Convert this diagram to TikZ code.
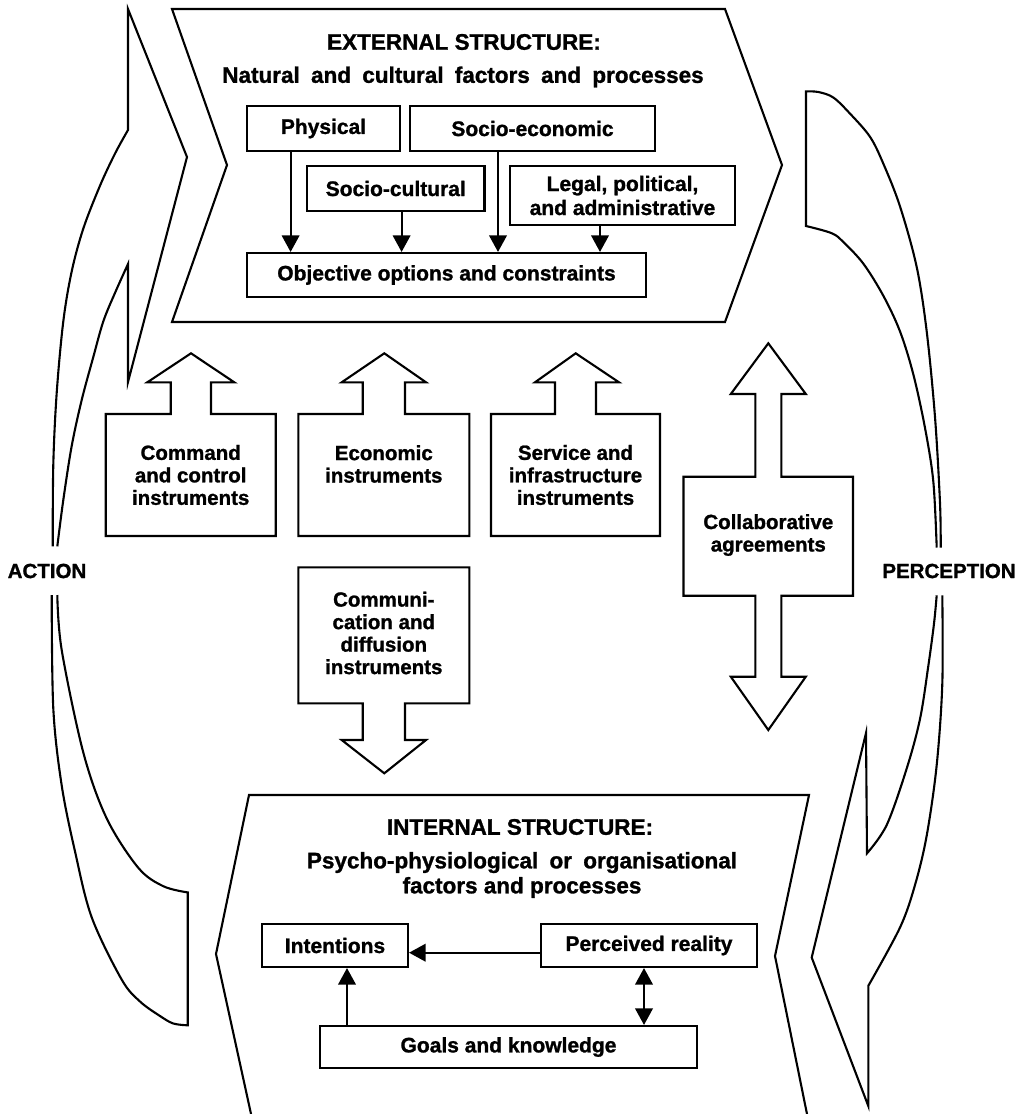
\documentclass[tikz,border=0pt]{standalone}
\usepackage{fontspec}
\setmainfont{Liberation Sans}[BoldFeatures={FakeBold=1.2}]
\usetikzlibrary{arrows.meta}
% wider inter-word gaps for the structure subtitles
\newcommand\widewords{\spaceskip=0.5em plus 0.1em\relax}
\begin{document}
\begin{tikzpicture}[x=1pt,y=-1pt,
  outline/.style={line width=2.1pt, line join=miter},
  boxtext/.style={draw, line width=2.1pt, inner sep=2pt, align=center,
    font=\fontsize{21}{24}\selectfont\bfseries},
  instrtext/.style={align=center, font=\fontsize{20.5}{22.5}\selectfont\bfseries},
  maintitle/.style={font=\fontsize{22.5}{26}\selectfont\bfseries},
  subtitletext/.style={align=center, font=\fontsize{22.5}{25}\selectfont\bfseries},
  sidetext/.style={font=\fontsize{20.5}{24}\selectfont\bfseries},
  headtip/.tip={Triangle[length=16.5pt,width=17.5pt]},
  flow/.style={line width=2pt, -headtip},
  flowboth/.style={line width=2pt, headtip-headtip},
]
\useasboundingbox (0,0) rectangle (1026,1114);

% ---------- external structure ----------
\draw[outline] (172,9) -- (725,9) -- (782,165) -- (725,322) -- (172,322) -- (227,165) -- cycle;
\node[maintitle] (exttitle) at (464,42) {EXTERNAL STRUCTURE:};
\node[subtitletext] (extsub) at (463,77) {\widewords Natural and cultural factors and processes};

\node[boxtext, minimum width=153pt, minimum height=45pt] (phys) at (323.5,128.5) {Physical};
\node[boxtext, minimum width=245pt, minimum height=45pt] (soceco) at (532.5,128.5) {Socio-economic};
\node[boxtext, minimum width=177.5pt, minimum height=45pt] (soccul) at (395.75,188.5) {Socio-cultural};
\node[boxtext, minimum width=225pt, minimum height=59pt] (legal) at (622.5,195.5) {Legal, political,\\and administrative};
\node[boxtext, minimum width=399pt, minimum height=44pt] (obj) at (446.5,275) {Objective options and constraints};

\coordinate (xa) at (290.6,0);
\coordinate (xb) at (401.6,0);
\coordinate (xc) at (498,0);
\coordinate (xd) at (600,0);
\draw[flow] (phys.south -| xa) -- (obj.north -| xa);
\draw[flow] (soccul.south -| xb) -- (obj.north -| xb);
\draw[flow] (soceco.south -| xc) -- (obj.north -| xc);
\draw[flow] (legal.south -| xd) -- (obj.north -| xd);

% ---------- policy instruments ----------
\draw[outline] (105.7,414) -- (170.7,414) -- (170.7,382.3) -- (147.3,382.3) -- (191,353.3)
  -- (234.3,382.3) -- (211,382.3) -- (211,414) -- (275.7,414) -- (275.7,536) -- (105.7,536) -- cycle;
\node[instrtext] (cmdtxt) at (190.7,475) {Command\\and control\\instruments};

\draw[outline] (298.3,414) -- (362.7,414) -- (362.7,382.3) -- (341.7,382.3) -- (384.3,353.3)
  -- (426,382.3) -- (405,382.3) -- (405,414) -- (469.3,414) -- (469.3,536) -- (298.3,536) -- cycle;
\node[instrtext] (ecotxt) at (383.8,464) {Economic\\instruments};

\draw[outline] (491,414) -- (555,414) -- (555,382.3) -- (535,382.3) -- (575.7,353.3)
  -- (619,382.3) -- (596,382.3) -- (596,414) -- (660,414) -- (660,536) -- (491,536) -- cycle;
\node[instrtext] (srvtxt) at (575.5,475) {Service and\\infrastructure\\instruments};

\draw[outline] (298.3,567.3) -- (469.3,567.3) -- (469.3,703.3) -- (405,703.3) -- (405,740)
  -- (426,740) -- (384.3,773.3) -- (341.7,740) -- (362.7,740) -- (362.7,703.3) -- (298.3,703.3) -- cycle;
\node[instrtext] (comtxt) at (383.8,633) {Communi-\\cation and\\diffusion\\instruments};

\draw[outline] (768.3,343.3) -- (805.8,394) -- (781.3,394) -- (781.3,476.7) -- (853,476.7)
  -- (853,595.7) -- (781.3,595.7) -- (781.3,676.7) -- (805.8,676.7) -- (768.3,730)
  -- (730.8,676.7) -- (755.3,676.7) -- (755.3,595.7) -- (683.5,595.7) -- (683.5,476.7)
  -- (755.3,476.7) -- (755.3,394) -- (730.8,394) -- cycle;
\node[instrtext] (coltxt) at (768.3,535) {Collaborative\\agreements};

% ---------- internal structure ----------
\draw[outline] (251.9,1118) -- (216,954) -- (249,795) -- (809,795) -- (775,956) -- (807.8,1118);
\node[maintitle] (inttitle) at (520,827) {INTERNAL STRUCTURE:};
\node[subtitletext] (intsub) at (522,875) {\widewords Psycho-physiological or organisational\\factors and processes};

\node[boxtext, minimum width=146pt, minimum height=43pt] (int) at (335,945.5) {Intentions};
\node[boxtext, minimum width=216pt, minimum height=43pt] (per) at (649,945.5) {Perceived reality};
\node[boxtext, minimum width=377pt, minimum height=42pt] (goals) at (508.5,1047) {Goals and knowledge};

\coordinate (rowy) at (0,952.7);
\coordinate (gx) at (347,0);
\coordinate (px) at (644,0);
\draw[flow] (per.west |- rowy) -- (int.east |- rowy);
\draw[flow] (goals.north -| gx) -- (int.south -| gx);
\draw[flowboth] (per.south -| px) -- (goals.north -| px);

% ---------- action loop (left) ----------
\draw[outline] plot[smooth, tension=0.55] coordinates {(52.7,546.4) (53.3,464.3) (56.7,392.9)
  (63.3,321.4) (71.7,271.4) (83.3,228.6) (100,185.7) (115,153.6) (128,130)}
  -- (128,9) -- (187,157) -- (128,382) -- (128,264)
  -- plot[smooth, tension=0.55] coordinates {(128,264) (115,292.9) (103.3,321.4) (93.3,357)
  (81.7,400) (71.7,446) (63.3,500) (57.3,546.4)};
\draw[outline] plot[smooth, tension=0.55] coordinates {(51.7,595) (53.3,708.5) (61.7,785.4)
  (75,851.4) (91.7,917.3) (121.7,979.6) (140,1001.5) (160,1016) (173.3,1023.5) (187.7,1025.3)}
  -- (187.7,892.4)
  -- plot[smooth, tension=0.55] coordinates {(187.7,892.4) (163.3,886.2) (138.3,867.8)
  (106.7,818.4) (83.3,752.5) (61.7,650) (57.3,595)};
\node[sidetext] (actlbl) at (47,571) {ACTION};

% ---------- perception loop (right) ----------
\draw[outline] plot[smooth, tension=0.55] coordinates {(940.7,547.5) (940,502.9) (935,417)
  (926.7,331.4) (916.7,267) (900,206.4) (883.3,163.6) (870,136.8) (850,113.6) (833.3,97.5)
  (818.3,92) (806,91.4)}
  -- (806,226)
  -- plot[smooth, tension=0.55] coordinates {(806,226) (831.7,233.2) (843.3,242) (863.3,263.6)
  (883.3,295.7) (900,331.4) (913.3,374.3) (925,427.9) (933.3,481.4) (936.7,547.5)};
\draw[outline] plot[smooth, tension=0.55] coordinates {(942.3,595.3) (942.3,683.7) (936.7,765)
  (926.7,835.6) (915,885) (900,927.5) (868.3,985.8)}
  -- (868.3,1106) -- (811.7,957.5) -- (866,733) -- (867,853.3)
  -- plot[smooth, tension=0.55] coordinates {(867,853.3) (886.7,825) (906.7,768.5) (920,719)
  (928.3,666) (934,623.6) (936.7,595.3)};
\node[sidetext] (perlbl) at (949,571) {PERCEPTION};

\end{tikzpicture}
\end{document}
